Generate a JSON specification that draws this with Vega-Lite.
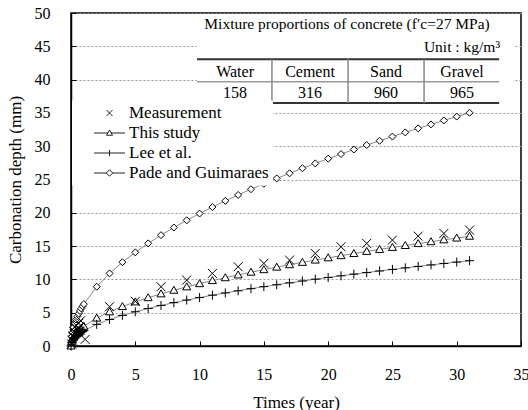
{
  "$schema": "https://vega.github.io/schema/vega-lite/v6.json",
  "width": 450,
  "height": 333,
  "autosize": "none",
  "padding": {"left": 71, "top": 13, "right": 7, "bottom": 64},
  "background": "white",
  "config": {
    "font": "Times New Roman, Liberation Serif, serif",
    "text": {"font": "Times New Roman, Liberation Serif, serif"},
    "legend": {"labelFont": "Times New Roman, Liberation Serif, serif"},
    "view": {"stroke": "black", "strokeWidth": 1.5},
    "axis": {"labelFont": "Times New Roman, Liberation Serif, serif", "titleFont": "Times New Roman, Liberation Serif, serif", "labelColor": "black", "titleColor": "black", "titleFontWeight": "normal", "domainColor": "black", "domainWidth": 1.5, "tickColor": "black"}
  },
  "datasets": {
    "pts": [
      {"s": "Pade and Guimaraes", "t": 0, "d": 0},
      {"s": "Pade and Guimaraes", "t": 0.05, "d": 1.41},
      {"s": "Pade and Guimaraes", "t": 0.1, "d": 1.99},
      {"s": "Pade and Guimaraes", "t": 0.2, "d": 2.81},
      {"s": "Pade and Guimaraes", "t": 0.3, "d": 3.44},
      {"s": "Pade and Guimaraes", "t": 0.4, "d": 3.98},
      {"s": "Pade and Guimaraes", "t": 0.5, "d": 4.45},
      {"s": "Pade and Guimaraes", "t": 0.6, "d": 4.87},
      {"s": "Pade and Guimaraes", "t": 0.7, "d": 5.26},
      {"s": "Pade and Guimaraes", "t": 0.8, "d": 5.63},
      {"s": "Pade and Guimaraes", "t": 0.9, "d": 5.97},
      {"s": "Pade and Guimaraes", "t": 1, "d": 6.29},
      {"s": "Pade and Guimaraes", "t": 2, "d": 8.9},
      {"s": "Pade and Guimaraes", "t": 3, "d": 10.9},
      {"s": "Pade and Guimaraes", "t": 4, "d": 12.58},
      {"s": "Pade and Guimaraes", "t": 5, "d": 14.06},
      {"s": "Pade and Guimaraes", "t": 6, "d": 15.41},
      {"s": "Pade and Guimaraes", "t": 7, "d": 16.64},
      {"s": "Pade and Guimaraes", "t": 8, "d": 17.79},
      {"s": "Pade and Guimaraes", "t": 9, "d": 18.87},
      {"s": "Pade and Guimaraes", "t": 10, "d": 19.89},
      {"s": "Pade and Guimaraes", "t": 11, "d": 20.86},
      {"s": "Pade and Guimaraes", "t": 12, "d": 21.79},
      {"s": "Pade and Guimaraes", "t": 13, "d": 22.68},
      {"s": "Pade and Guimaraes", "t": 14, "d": 23.54},
      {"s": "Pade and Guimaraes", "t": 15, "d": 24.36},
      {"s": "Pade and Guimaraes", "t": 16, "d": 25.16},
      {"s": "Pade and Guimaraes", "t": 17, "d": 25.93},
      {"s": "Pade and Guimaraes", "t": 18, "d": 26.69},
      {"s": "Pade and Guimaraes", "t": 19, "d": 27.42},
      {"s": "Pade and Guimaraes", "t": 20, "d": 28.13},
      {"s": "Pade and Guimaraes", "t": 21, "d": 28.82},
      {"s": "Pade and Guimaraes", "t": 22, "d": 29.5},
      {"s": "Pade and Guimaraes", "t": 23, "d": 30.17},
      {"s": "Pade and Guimaraes", "t": 24, "d": 30.81},
      {"s": "Pade and Guimaraes", "t": 25, "d": 31.45},
      {"s": "Pade and Guimaraes", "t": 26, "d": 32.07},
      {"s": "Pade and Guimaraes", "t": 27, "d": 32.68},
      {"s": "Pade and Guimaraes", "t": 28, "d": 33.28},
      {"s": "Pade and Guimaraes", "t": 29, "d": 33.87},
      {"s": "Pade and Guimaraes", "t": 30, "d": 34.45},
      {"s": "Pade and Guimaraes", "t": 31, "d": 35.02},
      {"s": "This study", "t": 0, "d": 0},
      {"s": "This study", "t": 0.05, "d": 0.66},
      {"s": "This study", "t": 0.1, "d": 0.94},
      {"s": "This study", "t": 0.2, "d": 1.32},
      {"s": "This study", "t": 0.3, "d": 1.62},
      {"s": "This study", "t": 0.4, "d": 1.87},
      {"s": "This study", "t": 0.5, "d": 2.09},
      {"s": "This study", "t": 0.6, "d": 2.29},
      {"s": "This study", "t": 0.7, "d": 2.48},
      {"s": "This study", "t": 0.8, "d": 2.65},
      {"s": "This study", "t": 0.9, "d": 2.81},
      {"s": "This study", "t": 1, "d": 2.96},
      {"s": "This study", "t": 2, "d": 4.19},
      {"s": "This study", "t": 3, "d": 5.13},
      {"s": "This study", "t": 4, "d": 5.92},
      {"s": "This study", "t": 5, "d": 6.62},
      {"s": "This study", "t": 6, "d": 7.25},
      {"s": "This study", "t": 7, "d": 7.83},
      {"s": "This study", "t": 8, "d": 8.37},
      {"s": "This study", "t": 9, "d": 8.88},
      {"s": "This study", "t": 10, "d": 9.36},
      {"s": "This study", "t": 11, "d": 9.82},
      {"s": "This study", "t": 12, "d": 10.25},
      {"s": "This study", "t": 13, "d": 10.67},
      {"s": "This study", "t": 14, "d": 11.08},
      {"s": "This study", "t": 15, "d": 11.46},
      {"s": "This study", "t": 16, "d": 11.84},
      {"s": "This study", "t": 17, "d": 12.2},
      {"s": "This study", "t": 18, "d": 12.56},
      {"s": "This study", "t": 19, "d": 12.9},
      {"s": "This study", "t": 20, "d": 13.24},
      {"s": "This study", "t": 21, "d": 13.56},
      {"s": "This study", "t": 22, "d": 13.88},
      {"s": "This study", "t": 23, "d": 14.2},
      {"s": "This study", "t": 24, "d": 14.5},
      {"s": "This study", "t": 25, "d": 14.8},
      {"s": "This study", "t": 26, "d": 15.09},
      {"s": "This study", "t": 27, "d": 15.38},
      {"s": "This study", "t": 28, "d": 15.66},
      {"s": "This study", "t": 29, "d": 15.94},
      {"s": "This study", "t": 30, "d": 16.21},
      {"s": "This study", "t": 31, "d": 16.48},
      {"s": "Lee et al.", "t": 0, "d": 0},
      {"s": "Lee et al.", "t": 0.05, "d": 0.51},
      {"s": "Lee et al.", "t": 0.1, "d": 0.73},
      {"s": "Lee et al.", "t": 0.2, "d": 1.03},
      {"s": "Lee et al.", "t": 0.3, "d": 1.26},
      {"s": "Lee et al.", "t": 0.4, "d": 1.45},
      {"s": "Lee et al.", "t": 0.5, "d": 1.63},
      {"s": "Lee et al.", "t": 0.6, "d": 1.78},
      {"s": "Lee et al.", "t": 0.7, "d": 1.92},
      {"s": "Lee et al.", "t": 0.8, "d": 2.06},
      {"s": "Lee et al.", "t": 0.9, "d": 2.18},
      {"s": "Lee et al.", "t": 1, "d": 2.3},
      {"s": "Lee et al.", "t": 2, "d": 3.25},
      {"s": "Lee et al.", "t": 3, "d": 3.98},
      {"s": "Lee et al.", "t": 4, "d": 4.6},
      {"s": "Lee et al.", "t": 5, "d": 5.14},
      {"s": "Lee et al.", "t": 6, "d": 5.63},
      {"s": "Lee et al.", "t": 7, "d": 6.09},
      {"s": "Lee et al.", "t": 8, "d": 6.51},
      {"s": "Lee et al.", "t": 9, "d": 6.9},
      {"s": "Lee et al.", "t": 10, "d": 7.27},
      {"s": "Lee et al.", "t": 11, "d": 7.63},
      {"s": "Lee et al.", "t": 12, "d": 7.97},
      {"s": "Lee et al.", "t": 13, "d": 8.29},
      {"s": "Lee et al.", "t": 14, "d": 8.61},
      {"s": "Lee et al.", "t": 15, "d": 8.91},
      {"s": "Lee et al.", "t": 16, "d": 9.2},
      {"s": "Lee et al.", "t": 17, "d": 9.48},
      {"s": "Lee et al.", "t": 18, "d": 9.76},
      {"s": "Lee et al.", "t": 19, "d": 10.03},
      {"s": "Lee et al.", "t": 20, "d": 10.29},
      {"s": "Lee et al.", "t": 21, "d": 10.54},
      {"s": "Lee et al.", "t": 22, "d": 10.79},
      {"s": "Lee et al.", "t": 23, "d": 11.03},
      {"s": "Lee et al.", "t": 24, "d": 11.27},
      {"s": "Lee et al.", "t": 25, "d": 11.5},
      {"s": "Lee et al.", "t": 26, "d": 11.73},
      {"s": "Lee et al.", "t": 27, "d": 11.95},
      {"s": "Lee et al.", "t": 28, "d": 12.17},
      {"s": "Lee et al.", "t": 29, "d": 12.39},
      {"s": "Lee et al.", "t": 30, "d": 12.6},
      {"s": "Lee et al.", "t": 31, "d": 12.81},
      {"s": "Measurement", "t": 0.05, "d": 0.3},
      {"s": "Measurement", "t": 0.1, "d": 0.9},
      {"s": "Measurement", "t": 0.15, "d": 1.5},
      {"s": "Measurement", "t": 0.2, "d": 2.2},
      {"s": "Measurement", "t": 0.25, "d": 1.8},
      {"s": "Measurement", "t": 0.3, "d": 2.8},
      {"s": "Measurement", "t": 0.4, "d": 3.1},
      {"s": "Measurement", "t": 0.5, "d": 2.5},
      {"s": "Measurement", "t": 0.6, "d": 3.4},
      {"s": "Measurement", "t": 0.75, "d": 3.8},
      {"s": "Measurement", "t": 1.1, "d": 1.0},
      {"s": "Measurement", "t": 3, "d": 5.9},
      {"s": "Measurement", "t": 5, "d": 6.7},
      {"s": "Measurement", "t": 7, "d": 8.9},
      {"s": "Measurement", "t": 9, "d": 9.9},
      {"s": "Measurement", "t": 11, "d": 10.9},
      {"s": "Measurement", "t": 13, "d": 11.9},
      {"s": "Measurement", "t": 15, "d": 12.4},
      {"s": "Measurement", "t": 17, "d": 12.9},
      {"s": "Measurement", "t": 19, "d": 13.9},
      {"s": "Measurement", "t": 21, "d": 14.9},
      {"s": "Measurement", "t": 23, "d": 15.4},
      {"s": "Measurement", "t": 25, "d": 15.9},
      {"s": "Measurement", "t": 27, "d": 16.5},
      {"s": "Measurement", "t": 29, "d": 16.9},
      {"s": "Measurement", "t": 31, "d": 17.4}
    ]
  },
  "encoding": {
    "x": {"type": "quantitative", "scale": {"domain": [0, 35], "nice": false},
      "axis": {"title": "Times (year)", "values": [0, 5, 10, 15, 20, 25, 30, 35], "grid": false, "tickSize": -5, "labelPadding": 25, "labelFontSize": 16, "titleFontSize": 17, "titlePadding": 12, "labelFlush": false}},
    "y": {"type": "quantitative", "scale": {"domain": [0, 50], "nice": false},
      "axis": {"title": "Carbonation depth (mm)", "values": [0, 5, 10, 15, 20, 25, 30, 35, 40, 45, 50], "grid": true, "gridColor": "#999", "gridDash": [2, 2], "gridWidth": 1, "tickSize": -5, "labelPadding": 26, "labelFontSize": 16, "titleFontSize": 17, "titlePadding": 10, "labelFlush": false}}
  },
  "layer": [
    {
      "data": {"values": [{}]},
      "mark": {"type": "rect", "fill": "white", "stroke": null},
      "encoding": {"x": {"datum": 9.8}, "x2": {"datum": 34.4}, "y": {"datum": 36.5}, "y2": {"datum": 49.8}}
    },
    {
      "data": {"name": "pts"},
      "transform": [{"filter": "datum.s !== 'Measurement'"}],
      "mark": {"type": "line", "color": "#888", "strokeWidth": 1},
      "encoding": {"x": {"field": "t"}, "y": {"field": "d"}, "detail": {"field": "s"}, "order": {"field": "t"}}
    },
    {
      "data": {"name": "pts"},
      "mark": {"type": "point", "filled": false, "fill": "white", "stroke": "black", "strokeWidth": 1, "size": 100, "opacity": 1},
      "encoding": {"x": {"field": "t"}, "y": {"field": "d"},
        "shape": {"field": "s", "type": "nominal",
          "scale": {"domain": ["Measurement", "This study", "Lee et al.", "Pade and Guimaraes"],
            "range": ["M-0.9,-0.9L0.9,0.9M-0.9,0.9L0.9,-0.9", "M0,-0.8L0.8,0.6L-0.8,0.6Z", "M-0.9,0H0.9M0,-0.9V0.9", "M0,-0.7L0.7,0L0,0.7L-0.7,0Z"]},
          "legend": null}}
    },
    {
      "data": {"name": "pts"},
      "mark": {"type": "point", "opacity": 0, "size": 100},
      "encoding": {"x": {"field": "t"}, "y": {"field": "d"},
        "shape": {"field": "s", "type": "nominal",
          "scale": {"domain": ["Measurement", "This study", "Lee et al.", "Pade and Guimaraes"],
            "range": ["M-0.6,-0.6L0.6,0.6M-0.6,0.6L0.6,-0.6", "M-3.1,0H-0.25M0.25,0H3.1M0,-0.6L0.6,0.45L-0.6,0.45Z", "M-3.1,0H3.1M0,-0.6V0.6", "M-3.1,0H-0.65M0.65,0H3.1M0,-0.65L0.65,0L0,0.65L-0.65,0Z"]},
          "legend": {"title": null, "orient": "none", "legendX": 1, "legendY": 87.5, "fillColor": "white", "padding": 4, "symbolOffset": 25, "labelOffset": 11, "labelFontSize": 17, "labelColor": "black", "rowPadding": 2, "symbolSize": 100, "symbolStrokeWidth": 1, "symbolStrokeColor": "#222", "symbolFillColor": "white", "symbolOpacity": 1,
            "encode": {"symbols": {"update": {"opacity": {"value": 1}, "fill": {"value": "white"}, "stroke": {"value": "#222"}, "strokeWidth": {"value": 1}}}}}}}
    },
    {
      "data": {"values": [{}]},
      "mark": {"type": "rule", "color": "#333", "strokeWidth": 2},
      "encoding": {"x": {"datum": 9.8}, "x2": {"datum": 33.3}, "y": {"datum": 43.05}}
    },
    {
      "data": {"values": [{}]},
      "mark": {"type": "rule", "color": "#999", "strokeWidth": 1.5},
      "encoding": {"x": {"datum": 9.8}, "x2": {"datum": 33.3}, "y": {"datum": 39.68}}
    },
    {
      "data": {"values": [{}]},
      "mark": {"type": "rule", "color": "#333", "strokeWidth": 2},
      "encoding": {"x": {"datum": 9.8}, "x2": {"datum": 33.3}, "y": {"datum": 36.49}}
    },
    {
      "data": {"values": [{}]},
      "mark": {"type": "rule", "color": "#888", "strokeWidth": 1.5},
      "encoding": {"x": {"datum": 15.63}, "y": {"datum": 36.49}, "y2": {"datum": 43.05}}
    },
    {
      "data": {"values": [{}]},
      "mark": {"type": "rule", "color": "#888", "strokeWidth": 1.5},
      "encoding": {"x": {"datum": 21.55}, "y": {"datum": 36.49}, "y2": {"datum": 43.05}}
    },
    {
      "data": {"values": [{}]},
      "mark": {"type": "rule", "color": "#888", "strokeWidth": 1.5},
      "encoding": {"x": {"datum": 27.46}, "y": {"datum": 36.49}, "y2": {"datum": 43.05}}
    },
    {
      "data": {"values": [{}]},
      "mark": {"type": "text", "fontSize": 15.5, "align": "center", "baseline": "middle", "color": "black"},
      "encoding": {"x": {"datum": 21.47}, "y": {"datum": 48.35}, "text": {"value": "Mixture proportions of concrete (f′c=27 MPa)"}}
    },
    {
      "data": {"values": [{}]},
      "mark": {"type": "text", "fontSize": 15.5, "align": "right", "baseline": "middle", "color": "black"},
      "encoding": {"x": {"datum": 33.37}, "y": {"datum": 44.9}, "text": {"value": "Unit : kg/m³"}}
    },
    {
      "data": {"values": [{}]},
      "mark": {"type": "text", "fontSize": 16, "align": "center", "baseline": "middle", "color": "black"},
      "encoding": {"x": {"datum": 12.76}, "y": {"datum": 41.14}, "text": {"value": "Water"}}
    },
    {
      "data": {"values": [{}]},
      "mark": {"type": "text", "fontSize": 16, "align": "center", "baseline": "middle", "color": "black"},
      "encoding": {"x": {"datum": 18.59}, "y": {"datum": 41.14}, "text": {"value": "Cement"}}
    },
    {
      "data": {"values": [{}]},
      "mark": {"type": "text", "fontSize": 16, "align": "center", "baseline": "middle", "color": "black"},
      "encoding": {"x": {"datum": 24.5}, "y": {"datum": 41.14}, "text": {"value": "Sand"}}
    },
    {
      "data": {"values": [{}]},
      "mark": {"type": "text", "fontSize": 16, "align": "center", "baseline": "middle", "color": "black"},
      "encoding": {"x": {"datum": 30.41}, "y": {"datum": 41.14}, "text": {"value": "Gravel"}}
    },
    {
      "data": {"values": [{}]},
      "mark": {"type": "text", "fontSize": 16, "align": "center", "baseline": "middle", "color": "black"},
      "encoding": {"x": {"datum": 12.76}, "y": {"datum": 37.99}, "text": {"value": "158"}}
    },
    {
      "data": {"values": [{}]},
      "mark": {"type": "text", "fontSize": 16, "align": "center", "baseline": "middle", "color": "black"},
      "encoding": {"x": {"datum": 18.59}, "y": {"datum": 37.99}, "text": {"value": "316"}}
    },
    {
      "data": {"values": [{}]},
      "mark": {"type": "text", "fontSize": 16, "align": "center", "baseline": "middle", "color": "black"},
      "encoding": {"x": {"datum": 24.5}, "y": {"datum": 37.99}, "text": {"value": "960"}}
    },
    {
      "data": {"values": [{}]},
      "mark": {"type": "text", "fontSize": 16, "align": "center", "baseline": "middle", "color": "black"},
      "encoding": {"x": {"datum": 30.41}, "y": {"datum": 37.99}, "text": {"value": "965"}}
    }
  ],
  "resolve": {"scale": {"shape": "independent"}}
}
